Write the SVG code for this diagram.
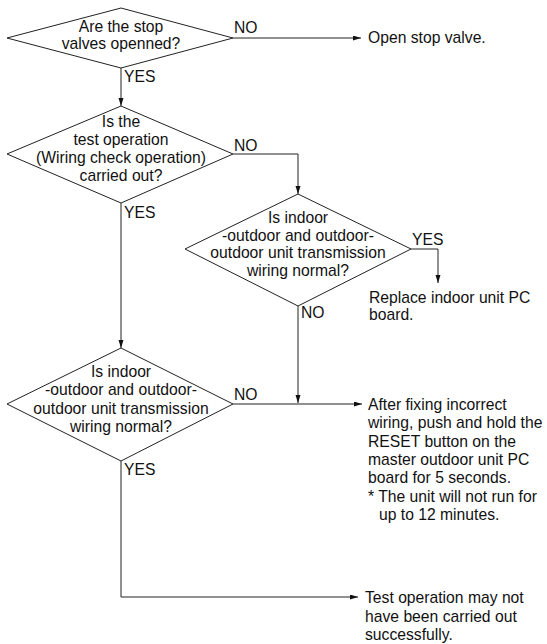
<svg xmlns="http://www.w3.org/2000/svg" width="547" height="644" viewBox="0 0 547 644">
<defs>
<marker id="arr" markerWidth="9" markerHeight="6" refX="8" refY="2.5" orient="auto" markerUnits="userSpaceOnUse">
<path d="M0,0 L8,2.5 L0,5 z" fill="#111"/>
</marker>
<style>
.d{fill:#fff;stroke:#222;stroke-width:1}
.c{fill:none;stroke:#222;stroke-width:1;marker-end:url(#arr)}
.t{font-family:"Liberation Sans",Arial,sans-serif;font-size:15.7px;fill:#111}
.m{text-anchor:middle}
</style>
</defs>
<rect width="547" height="644" fill="#fff"/>
<g id="connectors">
<path class="c" d="M233,38 H361"/>
<path class="c" d="M121,68 V106"/>
<path class="c" d="M233,154 H298 V194"/>
<path class="c" d="M121,203 V348"/>
<path class="c" d="M411,249 H438 V283"/>
<path class="c" d="M298,306 V403"/>
<path class="c" d="M233,404 H362"/>
<path class="c" d="M121,461 V597 H358"/>
<text class="t" x="234" y="33">NO</text>
<text class="t" x="124" y="82">YES</text>
<text class="t" x="234" y="151">NO</text>
<text class="t" x="124" y="218">YES</text>
<text class="t" x="412" y="245">YES</text>
<text class="t" x="301" y="318">NO</text>
<text class="t" x="234" y="400">NO</text>
<text class="t" x="124" y="475">YES</text>
</g>
<g id="q1">
<polygon class="d" points="121,8 233,38 121,68 7,38"/>
<text class="t m" x="121" y="32">Are the stop</text>
<text class="t m" x="121" y="48.5">valves openned?</text>
</g>
<g id="q2">
<polygon class="d" points="121,106 233,154 121,203 7,154"/>
<text class="t m" x="121" y="127">Is the</text>
<text class="t m" x="121" y="145">test operation</text>
<text class="t m" x="121" y="163">(Wiring check operation)</text>
<text class="t m" x="121" y="181">carried out?</text>
</g>
<g id="q3">
<polygon class="d" points="298,194 411,249 298,306 185,249"/>
<text class="t m" x="298" y="223">Is indoor</text>
<text class="t m" x="298" y="240.5">-outdoor and outdoor-</text>
<text class="t m" x="298" y="258">outdoor unit transmission</text>
<text class="t m" x="298" y="275.5">wiring normal?</text>
</g>
<g id="q4">
<polygon class="d" points="121,348 233,404 121,461 7,404"/>
<text class="t m" x="121" y="377">Is indoor</text>
<text class="t m" x="121" y="395">-outdoor and outdoor-</text>
<text class="t m" x="121" y="414">outdoor unit transmission</text>
<text class="t m" x="121" y="432">wiring normal?</text>
</g>
<g id="r1">
<text class="t" x="368" y="43">Open stop valve.</text>
</g>
<g id="r2">
<text class="t" x="369" y="303">Replace indoor unit PC</text>
<text class="t" x="369" y="320">board.</text>
</g>
<g id="r3">
<text class="t" x="368" y="410">After fixing incorrect</text>
<text class="t" x="368" y="428">wiring, push and hold the</text>
<text class="t" x="368" y="447">RESET button on the</text>
<text class="t" x="368" y="465">master outdoor unit PC</text>
<text class="t" x="368" y="483">board for 5 seconds.</text>
<text class="t" x="368" y="502">* The unit will not run for</text>
<text class="t" x="379" y="520">up to 12 minutes.</text>
</g>
<g id="r4">
<text class="t" x="365" y="603">Test operation may not</text>
<text class="t" x="365" y="622">have been carried out</text>
<text class="t" x="365" y="640">successfully.</text>
</g>
</svg>
